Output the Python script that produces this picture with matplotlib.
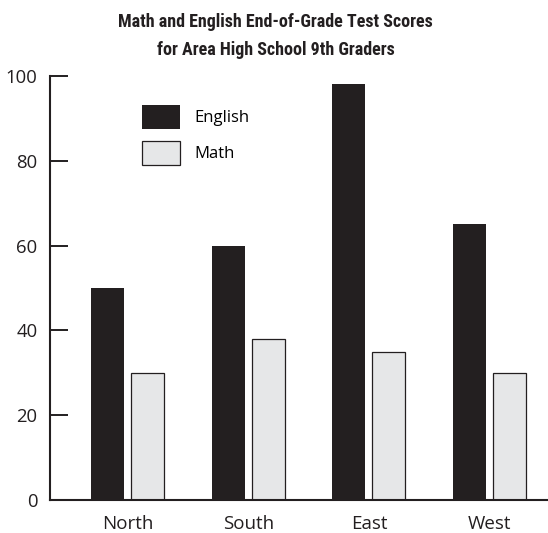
import numpy as np
import matplotlib.pyplot as plt
from matplotlib import font_manager

regions = ['North', 'South', 'East', 'West']
english = [50, 60, 98, 65]
math_scores = [30, 38, 35, 30]
y_ticks = [0, 20, 40, 60, 80, 100]
title_lines = ['Math and English End-of-Grade Test Scores',
               'for Area High School 9th Graders']

names = {f.name for f in font_manager.fontManager.ttflist}
title_font, title_size = 'DejaVu Sans', 9.5
for cand, size in [('Liberation Sans Narrow', 13), ('Roboto Condensed', 13),
                   ('DejaVu Sans Condensed', 11.5), ('Roboto', 10.8)]:
    if cand in names:
        title_font, title_size = cand, size
        break
body_font = 'Open Sans' if 'Open Sans' in names else 'DejaVu Sans'
plt.rcParams['font.family'] = [body_font, 'DejaVu Sans']

fig = plt.figure(figsize=(5.48, 5.33), dpi=100)
ax = fig.add_axes([50 / 548, 33 / 533, 498 / 548, 424 / 533])

x = np.arange(len(regions))
w = 0.273
ax.bar(x - 0.166, english, w, color='#231f20', label='English')
ax.bar(x + 0.166, math_scores, w, color='#e6e7e8', edgecolor='#231f20',
       linewidth=0.9, label='Math')

ax.set_xlim(-0.642, 3.484)
ax.set_ylim(0, 100)
ax.set_yticks(y_ticks)
ax.set_xticks(x)
ax.set_xticklabels(regions)

for s in ['top', 'right']:
    ax.spines[s].set_visible(False)
for s in ['left', 'bottom']:
    ax.spines[s].set_linewidth(1.5)
    ax.spines[s].set_color('#231f20')

ax.tick_params(axis='y', direction='in', length=13, width=1.4, pad=9,
               labelsize=13.3, colors='#231f20')
ax.tick_params(axis='x', length=0, pad=11, labelsize=13.5, colors='#231f20')

ax.legend(loc='upper left', bbox_to_anchor=(0.185, 0.932), frameon=False,
          fontsize=12, handlelength=2.3, handleheight=1.85, labelspacing=0.72,
          handletextpad=0.85, borderpad=0, borderaxespad=0)

for line, ypix in zip(title_lines, [27, 55]):
    fig.text(275.5 / 548, 1 - ypix / 533, line, ha='center', va='baseline',
             fontsize=title_size, fontweight='bold', family=title_font,
             color='#231f20')

plt.savefig('out.png', dpi=100)
